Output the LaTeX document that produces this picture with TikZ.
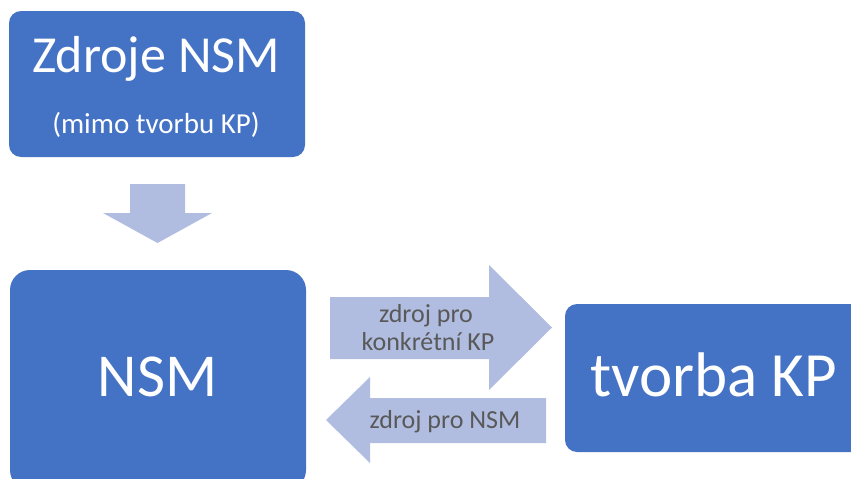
\documentclass[tikz,border=0pt]{standalone}
\usepackage{fontspec}
\setmainfont{Carlito}
\definecolor{boxblue}{HTML}{4472C4}
\definecolor{arrowblue}{HTML}{B1BDE0}
\definecolor{labelgray}{HTML}{595959}
\begin{document}
\begin{tikzpicture}[x=1pt,y=-1pt,
  block/.style={fill=boxblue, draw=none, inner sep=0pt},
  flow/.style={fill=arrowblue, draw=none},
  boxtext/.style={anchor=base, text=white, inner sep=0pt},
  flowtext/.style={anchor=base, text=labelgray, inner sep=0pt,
    font=\fontsize{26}{31}\selectfont}]
\useasboundingbox (0,0) rectangle (851,479);

% blocks
\node[block, rounded corners=12pt, minimum width=296pt, minimum height=146pt]
  (src) at (157,84) {};
\node[block, rounded corners=20pt, minimum width=296pt, minimum height=220pt]
  (nsm) at (158,380) {};
\node[block, rounded corners=12pt, minimum width=305pt, minimum height=148pt]
  (kp) at (717.5,378) {};

% block texts
\node[boxtext, font=\fontsize{52}{60}\selectfont] (srcA) at (156,72) {Zdroje NSM};
\node[boxtext, font=\fontsize{29}{34}\selectfont] (srcB) at (156,133) {(mimo tvorbu KP)};
\node[boxtext, font=\fontsize{61}{70}\selectfont] (nsmT) at (157.5,396) {NSM};
\node[boxtext, font=\fontsize{63}{72}\selectfont] (kpT) at (713.5,396) {tvorba KP};

% block arrows
\fill[flow] (130,184) -- (185,184) -- (185,213) -- (212,213) -- (157.5,243)
  -- (103,213) -- (130,213) -- cycle;
\fill[flow] (330,297) -- (489,297) -- (489,265) -- (552,327.5) -- (489,390)
  -- (489,359) -- (330,359) -- cycle;
\fill[flow] (546,398) -- (370,398) -- (370,377) -- (326,420) -- (370,463)
  -- (370,443) -- (546,443) -- cycle;

% arrow labels
\node[flowtext] (toKPa) at (426,322) {zdroj pro};
\node[flowtext] (toKPb) at (428,350) {konkrétní KP};
\node[flowtext] (toNSM) at (445,428) {zdroj pro NSM};
\end{tikzpicture}
\end{document}
